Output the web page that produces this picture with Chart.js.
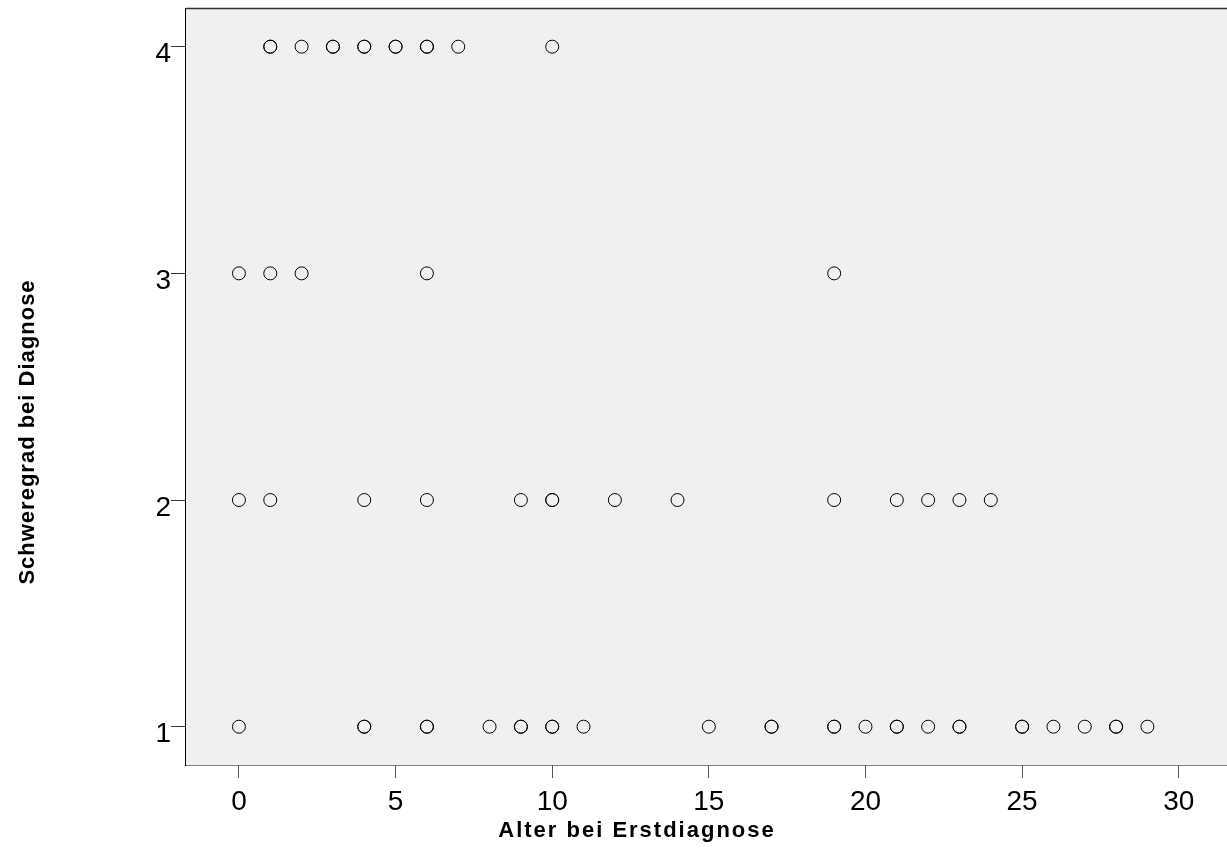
<!DOCTYPE html>
<html>
<head>
<meta charset="utf-8">
<script src="https://cdn.jsdelivr.net/npm/chart.js@4"></script>
<style>
  html, body { margin: 0; padding: 0; background: #ffffff; }
  #wrap { width: 1227px; height: 848px; }
</style>
</head>
<body>
<div id="wrap"><canvas id="c" width="1227" height="848"></canvas></div>
<script>
// Age at first diagnosis, grouped by severity level (repeated ages are separate cases)
const agesSeverity4 = [1, 1, 2, 3, 3, 4, 4, 5, 5, 6, 6, 7, 10];
const agesSeverity3 = [0, 1, 2, 6, 19];
const agesSeverity2 = [0, 1, 4, 6, 9, 10, 10, 12, 14, 19, 21, 22, 23, 24];
const agesSeverity1 = [0, 4, 4, 6, 6, 8, 9, 9, 10, 10, 11, 15, 17, 17, 19, 19, 20, 21, 21, 22, 23, 23, 25, 25, 26, 27, 28, 28, 29];

const severityLevels = [4, 3, 2, 1];
const agesByLevel = [agesSeverity4, agesSeverity3, agesSeverity2, agesSeverity1];

const xTicks = [0, 5, 10, 15, 20, 25, 30];
const yTicks = [1, 2, 3, 4];

const xTitle = 'Alter bei Erstdiagnose';
const yTitle = 'Schweregrad bei Diagnose';

const points = [];
agesByLevel.forEach((ages, i) => {
  ages.forEach(a => points.push({ x: a, y: severityLevels[i] }));
});

const FONT = '"Liberation Sans", Arial, sans-serif';

// Grey plot panel with a frame line on top, plus the two axis titles
const panel = {
  id: 'panel',
  beforeDatasetsDraw(chart) {
    const { ctx, chartArea: a } = chart;
    ctx.save();
    ctx.fillStyle = '#f0f0f0';
    ctx.fillRect(a.left, a.top, a.right - a.left, a.bottom - a.top);
    ctx.restore();
  },
  afterDraw(chart) {
    const { ctx, chartArea: a } = chart;
    ctx.save();
    ctx.strokeStyle = '#333333';
    ctx.lineWidth = 1.5;
    ctx.beginPath();
    ctx.moveTo(a.left, a.top);
    ctx.lineTo(a.right, a.top);
    ctx.stroke();

    ctx.fillStyle = '#000000';
    ctx.font = 'bold 22px ' + FONT;
    ctx.textAlign = 'center';
    ctx.textBaseline = 'alphabetic';
    ctx.letterSpacing = '2px';
    ctx.fillText(xTitle, 637, 837);
    ctx.letterSpacing = '1px';
    ctx.translate(34, 432);
    ctx.rotate(-Math.PI / 2);
    ctx.fillText(yTitle, 0, 0);
    ctx.restore();
  }
};

new Chart(document.getElementById('c'), {
  type: 'scatter',
  data: {
    datasets: [{
      data: points,
      pointStyle: 'circle',
      pointRadius: 6.5,
      pointBorderWidth: 1,
      pointBorderColor: '#000000',
      pointBackgroundColor: 'rgba(0,0,0,0)'
    }]
  },
  options: {
    responsive: false,
    animation: false,
    events: [],
    layout: { autoPadding: false, padding: { top: 8.5, right: 0, left: 0, bottom: 0 } },
    plugins: { legend: { display: false }, tooltip: { enabled: false } },
    scales: {
      x: {
        type: 'linear',
        min: -1.69,
        max: 31.54,
        afterBuildTicks(scale) { scale.ticks = xTicks.map(v => ({ value: v })); },
        afterFit(scale) { scale.height = 83; scale.paddingLeft = 0; scale.paddingRight = 0; },
        grid: { drawOnChartArea: false, drawTicks: true, tickLength: 13, tickColor: '#555555', tickWidth: 1 },
        border: { display: true, color: '#000000', width: 1.5 },
        ticks: { color: '#000000', font: { family: FONT, size: 28 }, padding: 7, maxRotation: 0 }
      },
      y: {
        type: 'linear',
        min: 0.831,
        max: 4.1685,
        afterBuildTicks(scale) { scale.ticks = yTicks.map(v => ({ value: v })); },
        afterFit(scale) { scale.width = 186; scale.paddingTop = 0; scale.paddingBottom = 0; },
        grid: { drawOnChartArea: false, drawTicks: true, tickLength: 15, tickColor: '#333333', tickWidth: 1 },
        border: { display: true, color: '#000000', width: 1.5 },
        ticks: { color: '#000000', font: { family: FONT, size: 28 }, padding: 0, labelOffset: 8 }
      }
    }
  },
  plugins: [panel]
});
</script>
</body>
</html>
